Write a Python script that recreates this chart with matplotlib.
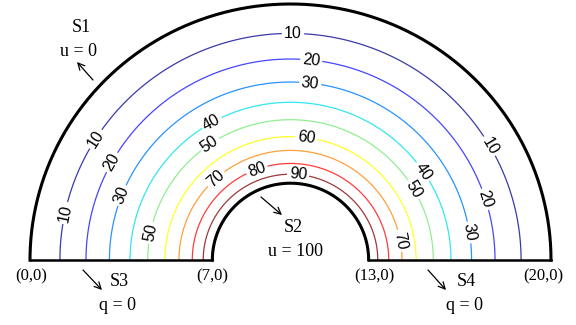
import numpy as np
import matplotlib
matplotlib.use("Agg")
import matplotlib.pyplot as plt

# ---- data ----
levels = [10, 20, 30, 40, 50, 60, 70, 80, 90]
# radius (distance from centre (10,0)) of each contour, boundaries included
radii_u = [3.00, 3.35, 3.77, 4.28, 4.82, 5.48, 6.16, 6.95, 7.85, 8.85, 10.0]
values_u = [100, 90, 80, 70, 60, 50, 40, 30, 20, 10, 0]
level_colors = ['#3a3aa8', '#4646ff', '#2a92ff', '#34e6f0', '#92ee92',
                '#ffff2a', '#ffa03c', '#ff3c3c', '#a03838']
corner_labels = ['(0,0)', '(7,0)', '(13,0)', '(20,0)']
corner_x = [0, 7, 13, 20]
center_x = 10.0
r_inner, r_outer = 3.0, 10.0

# ---- figure ----
fig = plt.figure(figsize=(5.76, 3.25), dpi=100)
ax = fig.add_axes([0, 0, 1, 1])
ax.set_xlim(-30/26.05, (576-30)/26.05)
ax.set_ylim((260-325)/25.6, 260/25.6)
ax.axis('off')

def P(px, py):
    return ((px - 30)/26.05, (260 - py)/25.6)

# field on polar grid
r = np.linspace(r_inner, r_outer, 200)
th = np.linspace(0, np.pi, 400)
R, T = np.meshgrid(r, th)
X = center_x + R*np.cos(T)
Y = R*np.sin(T)
U = np.interp(R, radii_u, values_u)

cs = ax.contour(X, Y, U, levels=levels, colors=level_colors, linewidths=0.9)

label_px = [(65, 213), (97, 140), (293, 35), (488, 147),
            (113, 163), (311, 62), (483, 200),
            (123, 196), (310, 85), (466, 233),
            (213, 125), (421, 173),
            (210, 145), (152, 233), (411, 191),
            (306, 140),
            (217, 180), (398, 241),
            (257, 170),
            (298, 176)]
manual = [P(*p) for p in label_px]
lbls = ax.clabel(cs, levels=levels, manual=manual, inline=True, inline_spacing=1,
                 fontsize=11.5, colors='k', fmt='%d')
for t in lbls:
    t.set_fontfamily('Liberation Sans')

# boundaries
tt = np.linspace(0, np.pi, 300)
ax.plot(center_x + r_outer*np.cos(tt), r_outer*np.sin(tt), color='k', lw=2.2)
ax.plot(center_x + r_inner*np.cos(tt), r_inner*np.sin(tt), color='k', lw=2.2)
ax.plot([corner_x[0], corner_x[1]], [0, 0], color='k', lw=1.8)
ax.plot([corner_x[2], corner_x[3]], [0, 0], color='k', lw=1.8)

serif = 'Liberation Serif'
def txt(px, py, s, size=13):
    x, y = P(px, py)
    ax.text(x, y, s, fontsize=size, family=serif, ha='center', va='center')

def arrow(tail, head):
    ax.annotate('', xy=P(*head), xytext=P(*tail),
                arrowprops=dict(arrowstyle='->', color='k', lw=0.9,
                                shrinkA=0, shrinkB=0, mutation_scale=12))

txt(81, 28, 'S1')
txt(79, 51, 'u = 0')
arrow((93, 80), (77, 62))

txt(293, 228, 'S2')
txt(296, 251, 'u = 100')
arrow((261, 197), (282, 215))

for lab, px in zip(corner_labels, [31, 212, 374, 543]):
    txt(px, 276, lab, size=12)

txt(119, 281, 'S3')
txt(118, 306, 'q = 0')
arrow((83, 270), (102, 290))

txt(466, 281, 'S4')
txt(465, 306, 'q = 0')
arrow((428, 270), (446, 290))

fig.savefig('out.png', dpi=100)
